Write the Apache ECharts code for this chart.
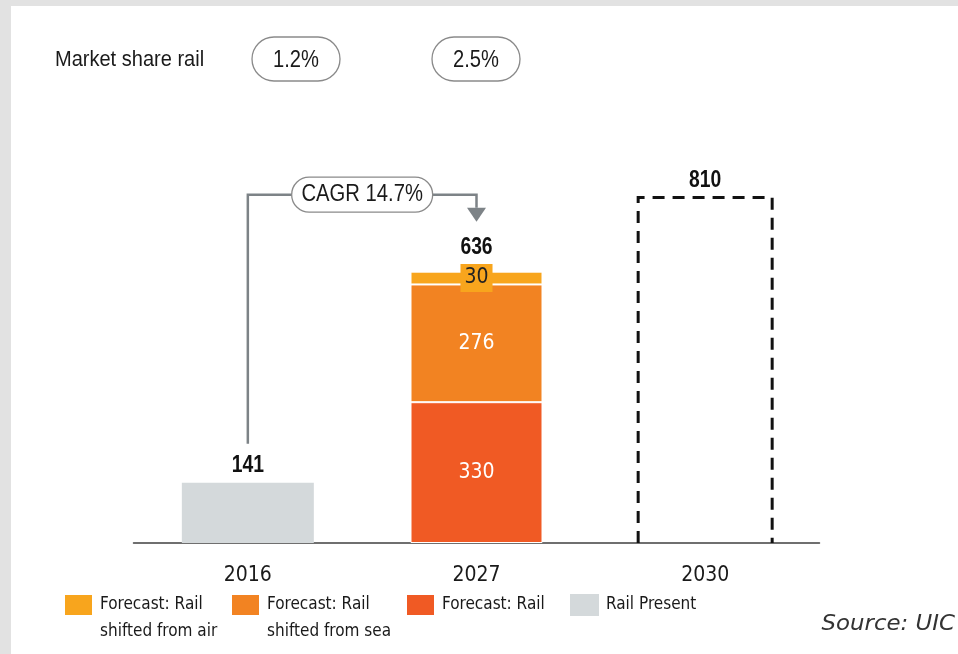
<!DOCTYPE html>
<html>
<head>
<meta charset="utf-8">
<script src="https://cdn.jsdelivr.net/npm/echarts@6/dist/echarts.min.js"></script>
<style>
html,body{margin:0;padding:0;background:#e2e2e2;}
#chart{width:958px;height:654px;}
</style>
</head>
<body>
<div id="chart"></div>
<script>
// ---- data ----
const categories = ['2016', '2027', '2030'];
const railPresent = [141, null, null];
const forecastRail = [null, 330, null];
const forecastSea = [null, 276, null];
const forecastAir = [null, 30, null];
const target2030 = [null, null, 810];
const totals = [141, 636, 810];
const marketShareTitle = 'Market share rail';
const marketShare = ['1.2%', '2.5%'];
const cagrText = 'CAGR 14.7%';
const sourceText = 'Source: UIC';
const seriesNames = ['Forecast: Rail shifted from air', 'Forecast: Rail shifted from sea', 'Forecast: Rail', 'Rail Present'];

// ---- styles ----
const COND = '"DejaVu Sans Condensed", "Liberation Sans Narrow", sans-serif';
const ARIAL = '"Liberation Sans", Arial, sans-serif';
const C_AIR = '#F8A51D', C_SEA = '#F28322', C_RAIL = '#F05A24', C_PRESENT = '#D4D9DB';
const GRAYLINE = '#7d8387';
const BAR_W = 132;

const chart = echarts.init(document.getElementById('chart'), null, {renderer: 'canvas'});

function legendFor(name, left, twoLine) {
  return {
    data: [name],
    left: left,
    top: twoLine ? 564.5 : 591.5,
    padding: 0,
    icon: 'rect',
    itemWidth: 29,
    itemHeight: 22,
    selectedMode: false,
    formatter: function (n) {
      if (n === seriesNames[0]) return '\nForecast: Rail\nshifted from air';
      if (n === seriesNames[1]) return '\nForecast: Rail\nshifted from sea';
      return n;
    },
    textStyle: {
      fontFamily: COND, fontSize: 17, color: '#1a1a1a',
      lineHeight: 27, padding: [0, 0, 0, 2]
    }
  };
}

function sText(text, x, y, size, scale, opts) {
  opts = opts || {};
  return {
    type: 'text', x: x, y: y, scaleX: scale,
    style: {text: text, font: (opts.weight || '') + ' ' + size + 'px ' + (opts.family || ARIAL),
      fill: opts.fill || '#1a1a1a', align: opts.align || 'center', verticalAlign: 'middle'}
  };
}

const option = {
  backgroundColor: '#e2e2e2',
  animation: false,
  grid: {left: 133.5, right: 138.5, bottom: 111, top: 159},
  xAxis: {
    type: 'category',
    data: categories,
    axisLine: {lineStyle: {color: '#404040', width: 1.5}},
    axisTick: {show: false},
    axisLabel: {fontFamily: COND, fontSize: 21, color: '#1a1a1a', margin: 22}
  },
  yAxis: {type: 'value', min: 0, max: 900, show: false, splitLine: {show: false}},
  legend: [
    legendFor(seriesNames[0], 63, true),
    legendFor(seriesNames[1], 230, true),
    legendFor(seriesNames[2], 405, false),
    legendFor(seriesNames[3], 570, false)
  ],
  graphic: [
    {type: 'rect', z: -100, shape: {x: 11, y: 6, width: 947, height: 648}, style: {fill: '#ffffff'}, silent: true},
    sText(marketShareTitle, 55, 60, 22, 0.91, {align: 'left'}),
    {type: 'rect', shape: {x: 252, y: 37, width: 88, height: 44, r: 22}, style: {fill: '#fff', stroke: '#8a8a8a', lineWidth: 1.3}},
    sText(marketShare[0], 296, 60, 24, 0.84),
    {type: 'rect', shape: {x: 432, y: 37, width: 88, height: 44, r: 22}, style: {fill: '#fff', stroke: '#8a8a8a', lineWidth: 1.3}},
    sText(marketShare[1], 476, 60, 24, 0.84),
    sText(sourceText, 955, 624, 22, 1.04, {align: 'right', family: '"DejaVu Sans", sans-serif', weight: 'italic', fill: '#333'})
  ],
  series: [
    {
      name: seriesNames[3], type: 'bar', stack: 'total', barWidth: BAR_W,
      data: railPresent,
      itemStyle: {color: C_PRESENT}
    },
    {
      name: seriesNames[2], type: 'bar', stack: 'total', barWidth: BAR_W,
      data: forecastRail,
      itemStyle: {color: C_RAIL, borderColor: '#fff', borderWidth: 1},
      label: {show: true, position: 'inside', color: '#fff', fontFamily: COND, fontSize: 21}
    },
    {
      name: seriesNames[1], type: 'bar', stack: 'total', barWidth: BAR_W,
      data: forecastSea,
      itemStyle: {color: C_SEA, borderColor: '#fff', borderWidth: 1},
      label: {show: true, position: 'inside', color: '#fff', fontFamily: COND, fontSize: 21}
    },
    {
      name: seriesNames[0], type: 'bar', stack: 'total', barWidth: BAR_W,
      data: forecastAir,
      itemStyle: {color: C_AIR, borderColor: '#fff', borderWidth: 1},
      label: {show: true, position: 'inside', color: '#222', fontFamily: COND, fontSize: 21,
        backgroundColor: C_AIR, padding: [4, 4, 3, 4]}
    },
    {
      name: 'target', type: 'custom', z: 5,
      data: target2030.map((v, i) => v == null ? null : [i, v]).filter(d => d),
      renderItem: function (params, api) {
        const i = api.value(0), v = api.value(1);
        const top = api.coord([i, v]);
        const base = api.coord([i, 0]);
        const h = BAR_W / 2 + 1;
        return {
          type: 'polyline',
          shape: {points: [[top[0] - h, base[1]], [top[0] - h, top[1]], [top[0] + h, top[1]], [top[0] + h, base[1]]]},
          style: {fill: null, stroke: '#111', lineWidth: 3, lineDash: [12, 8]}
        };
      }
    },
    {
      name: 'totals', type: 'custom', z: 6,
      data: totals.map((v, i) => [i, v]),
      renderItem: function (params, api) {
        const i = api.value(0), v = api.value(1);
        const p = api.coord([i, v]);
        const off = i === 1 ? 24 : 17;
        return {
          type: 'text', x: p[0], y: p[1] - off, scaleX: 0.84,
          style: {text: String(v), x: 0, y: 0, align: 'center', verticalAlign: 'middle',
            font: 'bold 23px ' + ARIAL, fill: '#111'}
        };
      }
    },
    {
      name: 'cagr', type: 'custom', z: 7,
      data: [[0, totals[0], 1, totals[1]]],
      renderItem: function (params, api) {
        const a = api.coord([api.value(0), api.value(1)]);
        const b = api.coord([api.value(2), api.value(3)]);
        const yH = b[1] - 77;
        const arrowBase = b[1] - 64;
        const arrowTip = b[1] - 50;
        const mid = (a[0] + b[0]) / 2;
        return {
          type: 'group',
          children: [
            {type: 'polyline', shape: {points: [[a[0], a[1] - 39], [a[0], yH], [b[0], yH], [b[0], arrowBase]]},
              style: {fill: null, stroke: GRAYLINE, lineWidth: 2.5}},
            {type: 'polygon', shape: {points: [[b[0] - 9.5, arrowBase], [b[0] + 9.5, arrowBase], [b[0], arrowTip]]},
              style: {fill: GRAYLINE}},
            {type: 'rect', shape: {x: mid - 70.5, y: yH - 17.5, width: 141, height: 35, r: 17.5},
              style: {fill: '#fff', stroke: '#8a8a8a', lineWidth: 1.3}},
            {type: 'text', x: mid, y: yH, scaleX: 0.88,
              style: {text: cagrText, x: 0, y: 0, align: 'center', verticalAlign: 'middle',
                font: '23px ' + ARIAL, fill: '#1a1a1a'}}
          ]
        };
      }
    }
  ]
};
chart.setOption(option);
</script>
</body>
</html>
